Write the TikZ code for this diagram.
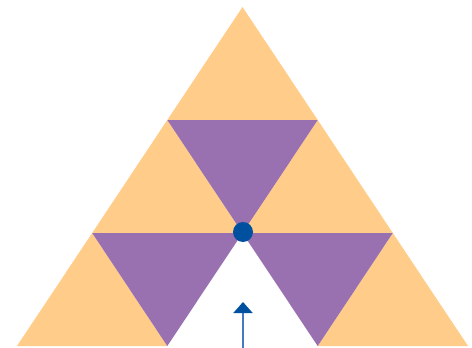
\documentclass[tikz,border=0pt]{standalone}
\usetikzlibrary{arrows.meta}
\definecolor{tri}{RGB}{255,204,138}
\definecolor{pur}{RGB}{153,112,176}
\definecolor{dotblue}{RGB}{0,80,160}
\definecolor{linblue}{RGB}{70,120,195}
\tikzset{
  up/.style={fill=tri,draw=none},
  down/.style={fill=pur,draw=none},
}
\begin{document}
\begin{tikzpicture}[x=1pt,y=-1pt]
\useasboundingbox (0,0) rectangle (472,348);
% grid points
\coordinate (A) at (242.5,7);
\coordinate (B1) at (167.3,120);
\coordinate (B2) at (317.7,120);
\coordinate (C1) at (92.2,233);
\coordinate (C2) at (242.5,233);
\coordinate (C3) at (392.8,233);
\coordinate (D1) at (17,346);
\coordinate (D2) at (167.3,346);
\coordinate (D3) at (317.7,346);
\coordinate (D4) at (468,346);
% upward orange triangles
\fill[up] (A) -- (B1) -- (B2) -- cycle;
\fill[up] (B1) -- (C1) -- (C2) -- cycle;
\fill[up] (B2) -- (C2) -- (C3) -- cycle;
\fill[up] (C1) -- (D1) -- (D2) -- cycle;
\fill[up] (C3) -- (D3) -- (D4) -- cycle;
% downward purple triangles
\fill[down] (B1) -- (B2) -- (C2) -- cycle;
\fill[down] (C1) -- (C2) -- (D2) -- cycle;
\fill[down] (C2) -- (C3) -- (D3) -- cycle;
% dot
\node[circle,fill=dotblue,inner sep=0pt,minimum size=20pt] (dot) at (243,232) {};
% arrow
\coordinate (tail) at (243,349);
\coordinate (tip) at (243,302);
\draw[linblue,line width=2pt,-{Triangle[width=19pt,length=11pt,color=dotblue]}] (tail) -- (tip);
\end{tikzpicture}
\end{document}
